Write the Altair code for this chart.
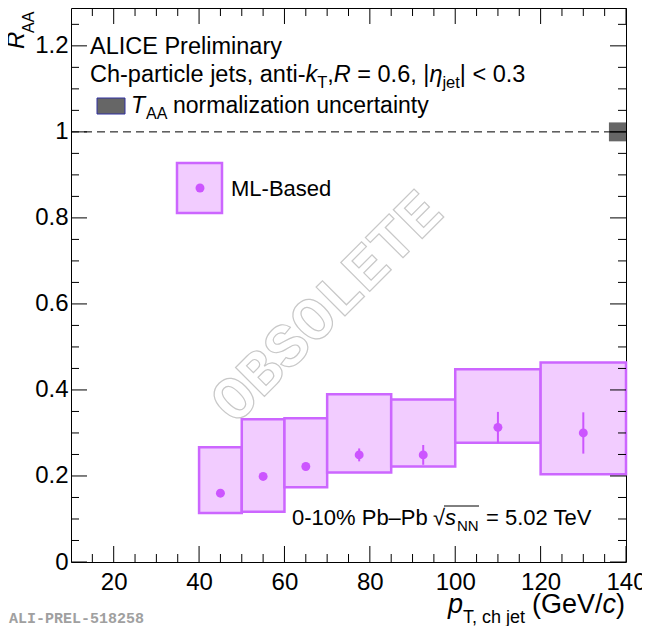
import altair as alt
import pandas as pd

# pT bins (GeV/c) and R_AA values
pt_low = [40, 50, 60, 70, 85, 100, 120]
pt_high = [50, 60, 70, 85, 100, 120, 140]
pt_mid = [45, 55, 65, 77.5, 92.5, 110, 130]
raa = [0.160, 0.199, 0.222, 0.249, 0.249, 0.313, 0.300]
stat_err = [0.006, 0.006, 0.007, 0.015, 0.023, 0.036, 0.048]
sys_low = [0.114, 0.117, 0.174, 0.208, 0.222, 0.277, 0.204]
sys_high = [0.267, 0.332, 0.334, 0.390, 0.378, 0.448, 0.464]

# T_AA normalization box drawn at the right edge around unity
taa_pt = [136, 140]
taa_unc = 0.022
unity_pt = [10, 136]

x_ticks_major = [20, 40, 60, 80, 100, 120, 140]
x_ticks_minor = [15, 25, 30, 35, 45, 50, 55, 65, 70, 75, 85, 90, 95,
                 105, 110, 115, 125, 130, 135]
y_ticks_major = [0, 0.2, 0.4, 0.6, 0.8, 1.0, 1.2]
y_ticks_minor = [0.05, 0.1, 0.15, 0.25, 0.3, 0.35, 0.45, 0.5, 0.55, 0.65,
                 0.7, 0.75, 0.85, 0.9, 0.95, 1.05, 1.1, 1.15, 1.25]

FONT = "Liberation Sans"
W, H = 555, 554
VIOLET = "#cc66ff"
VIOLET_FILL = "#f2ccff"
MARKER = "#cc55ff"

x_scale = alt.Scale(domain=[10, 140], nice=False, zero=False)
y_scale = alt.Scale(domain=[0, 1.288], nice=False, zero=False)

x_axis = alt.Axis(values=x_ticks_major, title=None, ticks=False, tickSize=0,
                  domain=False, grid=False, labelFont=FONT, labelFontSize=24,
                  labelColor="black", labelPadding=8, labelFlush=False,
                  labelOverlap=False)
y_axis = alt.Axis(values=y_ticks_major, format="~g", title=None, ticks=False,
                  tickSize=0, domain=False, grid=False, labelFont=FONT,
                  labelFontSize=24, labelColor="black", labelPadding=3,
                  labelFlush=False, labelOverlap=False)


def xq(field):
    return alt.X(f"{field}:Q", scale=x_scale, axis=x_axis)


def yq(field):
    return alt.Y(f"{field}:Q", scale=y_scale, axis=y_axis)


bins = pd.DataFrame({"lo": pt_low, "hi": pt_high, "pt": pt_mid, "raa": raa,
                     "stat": stat_err, "sys_lo": sys_low, "sys_hi": sys_high})
bins["stat_lo"] = bins["raa"] - bins["stat"]
bins["stat_hi"] = bins["raa"] + bins["stat"]

sys_boxes = alt.Chart(bins).mark_rect(
    fill=VIOLET_FILL, stroke=VIOLET, strokeWidth=2.5
).encode(x=xq("lo"), x2="hi:Q", y=yq("sys_lo"), y2="sys_hi:Q")

stat_bars = alt.Chart(bins).mark_rule(color=MARKER, strokeWidth=2).encode(
    x=xq("pt"), y=yq("stat_lo"), y2="stat_hi:Q")

points = alt.Chart(bins).mark_circle(size=80, color=MARKER, opacity=1).encode(
    x=xq("pt"), y=yq("raa"))

unity = pd.DataFrame({"x": [unity_pt[0]], "x2": [unity_pt[1]], "y": [1.0]})
unity_line = alt.Chart(unity).mark_rule(
    color="black", strokeWidth=1, strokeDash=[8, 5]
).encode(x=xq("x"), x2="x2:Q", y=yq("y"))

taa = pd.DataFrame({"x": [taa_pt[0]], "x2": [taa_pt[1]], "y": [1.0],
                    "lo": [1.0 - taa_unc], "hi": [1.0 + taa_unc]})
taa_box = alt.Chart(taa).mark_rect(fill="#666666").encode(
    x=xq("x"), x2="x2:Q", y=yq("lo"), y2="hi:Q")
taa_mid = alt.Chart(taa).mark_rule(color="black", strokeWidth=1).encode(
    x=xq("x"), x2="x2:Q", y=yq("y"))


def tick_rules(values, length, side):
    base = alt.Chart(pd.DataFrame({"v": values})).mark_rule(
        color="black", strokeWidth=1)
    if side == "bottom":
        return base.encode(x=xq("v"), y=alt.value(H), y2=alt.value(H - length))
    if side == "top":
        return base.encode(x=xq("v"), y=alt.value(0), y2=alt.value(length))
    if side == "left":
        return base.encode(y=yq("v"), x=alt.value(0), x2=alt.value(length))
    return base.encode(y=yq("v"), x=alt.value(W), x2=alt.value(W - length))


ticks = [tick_rules(v, n, s)
         for s in ["bottom", "top"]
         for v, n in [(x_ticks_major, 16), (x_ticks_minor, 8)]]
ticks += [tick_rules(v, n, s)
          for s in ["left", "right"]
          for v, n in [(y_ticks_major, 16), (y_ticks_minor, 8)]]


def label(text, x, y, size=23.5, italic=False, **kw):
    props = dict(font=FONT, fontSize=size, align="left", baseline="alphabetic",
                 color="black", fontStyle="italic" if italic else "normal")
    props.update(kw)
    return alt.Chart(pd.DataFrame({"t": [text]})).mark_text(**props).encode(
        text="t:N", x=alt.value(x), y=alt.value(y))


def box(x, x2, y, y2, **kw):
    return alt.Chart(pd.DataFrame({"a": [0]})).mark_rect(**kw).encode(
        x=alt.value(x), x2=alt.value(x2), y=alt.value(y), y2=alt.value(y2))


watermark = label("OBSOLETE", 256, 299, 62, font="Liberation Mono",
                  fontWeight="bold", align="center", baseline="middle",
                  angle=315, color="white", fill="white", stroke="#c8c8c8",
                  strokeWidth=1.2)

texts = [
    label("ALICE Preliminary", 19, 46),
    label("Ch-particle jets, anti-", 19, 74),
    label("k", 234.5, 74, italic=True),
    label("T", 246.3, 80, 16.5),
    label(",", 256.3, 74),
    label("R", 262.8, 74, italic=True),
    label("= 0.6, |", 286.3, 74),
    label("η", 358.4, 74, italic=True),
    label("jet", 371.4, 80, 16.5),
    label("| < 0.3", 388.8, 74),
    box(26, 54, 90, 106, fill="#666666", stroke="#3030a0", strokeWidth=1),
    label("T", 60, 105, 23, italic=True),
    label("AA", 75, 111, 16),
    label("normalization uncertainty", 102, 105, 23),
    box(106, 151, 155, 205, fill=VIOLET_FILL, stroke=VIOLET, strokeWidth=2.5),
    alt.Chart(pd.DataFrame({"a": [0]})).mark_circle(
        size=80, color=MARKER, opacity=1
    ).encode(x=alt.value(129), y=alt.value(180)),
    label("ML-Based", 160, 188, 22),
    label("0-10% Pb–Pb", 221, 517, 22),
    label("√", 362, 517, 22),
    alt.Chart(pd.DataFrame({"a": [0]})).mark_rule(
        color="black", strokeWidth=1
    ).encode(x=alt.value(373), x2=alt.value(408), y=alt.value(498)),
    label("s", 374, 517, 22, italic=True),
    label("NN", 386, 523, 15),
    label("= 5.02 TeV", 415, 517, 22),
    label("p", 377, 605, 27, italic=True),
    label("T, ch jet", 392, 615, 18),
    label("(GeV/", 461, 605, 27),
    label("c", 531.5, 605, 27, italic=True),
    label(")", 545, 605, 27),
    label("R", -47, 41, 24, italic=True, angle=270),
    label("AA", -37, 25, 16, angle=270),
    label("ALI-PREL-518258", -62, 615, 15, font="Liberation Mono",
          fontWeight="bold", color="#a0a0a0"),
]

chart = alt.layer(
    watermark, sys_boxes, unity_line, taa_box, taa_mid, stat_bars, points,
    *ticks, *texts
).properties(
    width=W, height=H,
    autosize=alt.AutoSizeParams(type="none"),
    padding={"left": 63, "top": 0, "right": 16, "bottom": 64},
    background="white",
).configure_view(stroke="black", strokeWidth=1)

chart.save("out.html", embed_options={"renderer": "svg", "actions": False})
